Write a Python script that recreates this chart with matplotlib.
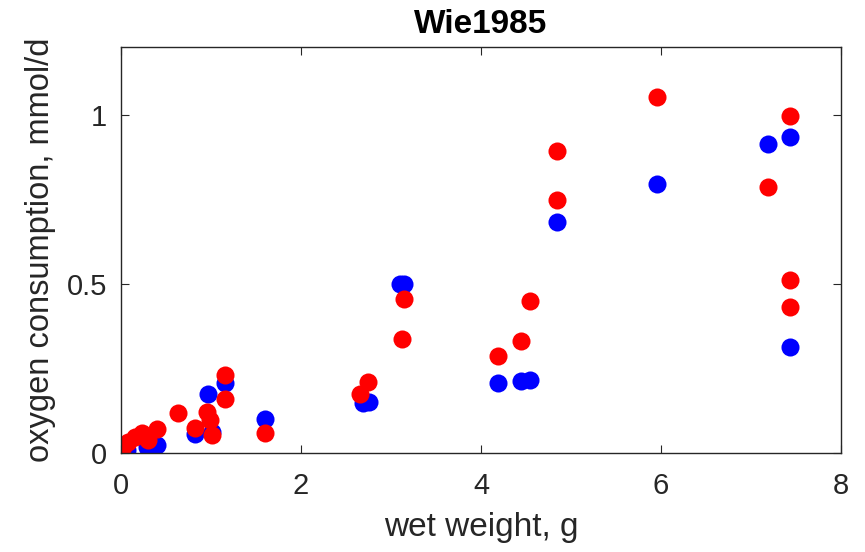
import matplotlib
matplotlib.use("Agg")
import matplotlib.pyplot as plt

# data
wet_weight_blue = [0.063, 0.285, 0.396, 0.822, 1.008, 0.963, 1.156, 1.60, 2.69, 2.76,
                   3.10, 3.14, 4.19, 4.44, 4.54, 4.84, 5.96, 7.19, 7.43, 7.43]
o2_blue = [0.009, 0.019, 0.024, 0.056, 0.063, 0.175, 0.206, 0.100, 0.149, 0.152,
           0.500, 0.500, 0.207, 0.213, 0.216, 0.683, 0.795, 0.913, 0.934, 0.312]

wet_weight_red = [0.026, 0.081, 0.156, 0.23, 0.30, 0.396, 0.637, 0.822, 0.952, 0.99,
                  1.008, 1.156, 1.156, 1.60, 2.66, 2.74, 3.12, 3.14, 4.19, 4.44,
                  4.54, 4.84, 4.84, 5.96, 7.19, 7.43, 7.43, 7.43]
o2_red = [0.019, 0.033, 0.048, 0.058, 0.038, 0.070, 0.117, 0.073, 0.122, 0.098,
          0.053, 0.231, 0.159, 0.060, 0.174, 0.209, 0.337, 0.455, 0.287, 0.331,
          0.450, 0.893, 0.749, 1.051, 0.785, 0.995, 0.512, 0.433]

title = "Wie1985"
xlabel = "wet weight, g"
ylabel = "oxygen consumption, mmol/d"
xticks = [0, 2, 4, 6, 8]
yticks = [0, 0.5, 1]
yticklabels = ["0", "0.5", "1"]

plt.rcParams['font.family'] = ['Liberation Sans', 'DejaVu Sans']
fig = plt.figure(figsize=(8.65, 5.52), dpi=100)
ax = fig.add_axes([121/865, 1-453/552, 720/865, 406/552])

ax.plot(wet_weight_blue, o2_blue, 'o', color='#0000ff', markersize=13, markeredgewidth=0)
ax.plot(wet_weight_red, o2_red, 'o', color='#ff0000', markersize=13, markeredgewidth=0)

ax.set_xlim(0, 8)
ax.set_ylim(0, 1.2)
ax.set_xticks(xticks)
ax.set_yticks(yticks)
ax.set_yticklabels(yticklabels)
ax.tick_params(direction='in', top=True, right=True, length=6, width=0.8,
               colors='#262626', labelsize=21, labelcolor='#262626')
ax.tick_params(axis='x', pad=14)
ax.tick_params(axis='y', pad=10)
for s in ax.spines.values():
    s.set_color('#262626')
    s.set_linewidth(1.0)
ax.set_title(title, fontsize=24, fontweight='bold', pad=10)
ax.set_xlabel(xlabel, fontsize=24, color='#262626', labelpad=8)
ax.set_ylabel(ylabel, fontsize=23.5, color='#262626', labelpad=8)

fig.savefig("out.png", dpi=100)
